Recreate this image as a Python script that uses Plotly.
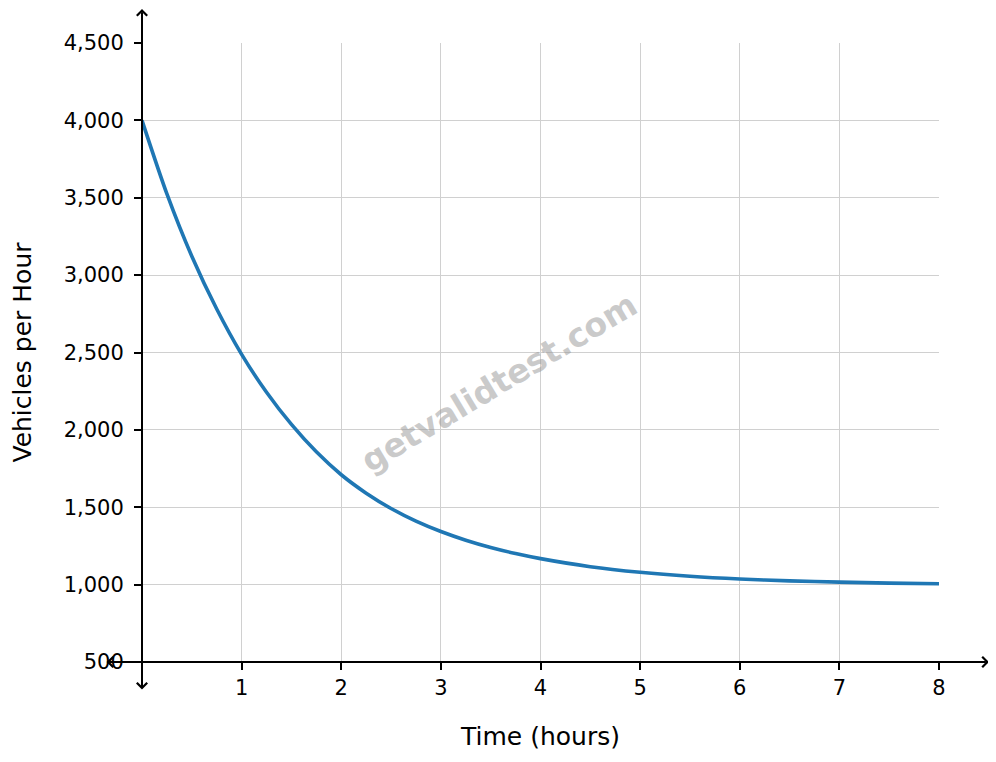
import plotly.graph_objects as go

# Data
time_hours = [0, 0.25, 0.5, 0.75, 1, 1.25, 1.5, 1.75, 2, 2.25, 2.5, 2.75, 3, 3.25, 3.5, 3.75, 4,
              4.5, 5, 5.5, 6, 6.5, 7, 7.5, 8]
vehicles = [4000, 3525, 3122, 2781, 2488, 2243, 2035, 1858, 1710, 1591, 1492, 1410, 1343, 1287, 1240, 1201, 1168,
            1116, 1080, 1054, 1036, 1024, 1016, 1010, 1006]
x_ticks = [1, 2, 3, 4, 5, 6, 7, 8]
y_ticks = [500, 1000, 1500, 2000, 2500, 3000, 3500, 4000, 4500]
y_tick_labels = [f"{v:,}" for v in y_ticks]

FONT = "DejaVu Sans"
# page offset compensation (body margin of the html page)
OFF = 7
L, T = 141 - OFF, 42 - OFF
PW, PH = 797, 619

fig = go.Figure()
fig.add_trace(go.Scatter(
    x=time_hours, y=vehicles, mode="lines",
    line=dict(color="#1f77b4", width=3.6, shape="spline", smoothing=0.8),
    showlegend=False, hoverinfo="skip",
))

fig.update_layout(
    width=996, height=762,
    margin=dict(l=L, r=996 - L - PW, t=T, b=762 - T - PH, autoexpand=False),
    paper_bgcolor="white", plot_bgcolor="white",
    font=dict(family=FONT, color="black"),
    xaxis=dict(
        range=[0, 8], tickvals=x_ticks, ticktext=[str(v) for v in x_ticks],
        showgrid=True, gridcolor="#d0d0d0", gridwidth=1,
        zeroline=False, showline=False, automargin=False,
        ticks="outside", ticklen=7, tickwidth=2, tickcolor="black",
        tickfont=dict(size=21, family=FONT),
        title=dict(text="Time (hours)", font=dict(size=25, family=FONT), standoff=28),
    ),
    yaxis=dict(
        range=[500, 4500], tickvals=y_ticks, ticktext=y_tick_labels,
        showgrid=True, gridcolor="#d0d0d0", gridwidth=1,
        zeroline=False, showline=False, automargin=False,
        ticks="outside", ticklen=7, tickwidth=2, tickcolor="black",
        ticklabelstandoff=6,
        tickfont=dict(size=21, family=FONT),
        title=dict(text="Vehicles per Hour", font=dict(size=25, family=FONT), standoff=27),
    ),
)

# Axis lines with arrows at both ends
fig.add_annotation(
    xref="paper", yref="paper", x=(988 - 141) / PW, y=0,
    axref="pixel", ayref="pixel", ax=-(988 - 104), ay=0,
    text="", showarrow=True, arrowside="end+start",
    arrowhead=4, arrowsize=1.0, arrowwidth=2, arrowcolor="black",
)
fig.add_annotation(
    xref="paper", yref="paper", x=0, y=(661 - 7) / PH,
    axref="pixel", ayref="pixel", ax=0, ay=(690 - 7),
    text="", showarrow=True, arrowside="end+start",
    arrowhead=4, arrowsize=1.0, arrowwidth=2, arrowcolor="black",
)

# Watermark
fig.add_annotation(
    xref="paper", yref="paper", x=(498 - 141) / PW, y=(661 - 382) / PH,
    text="<b>getvalidtest.com</b>", showarrow=False, textangle=-31,
    font=dict(size=33, family=FONT, color="rgba(150,150,150,0.5)"),
)

fig.write_html("out.html")
